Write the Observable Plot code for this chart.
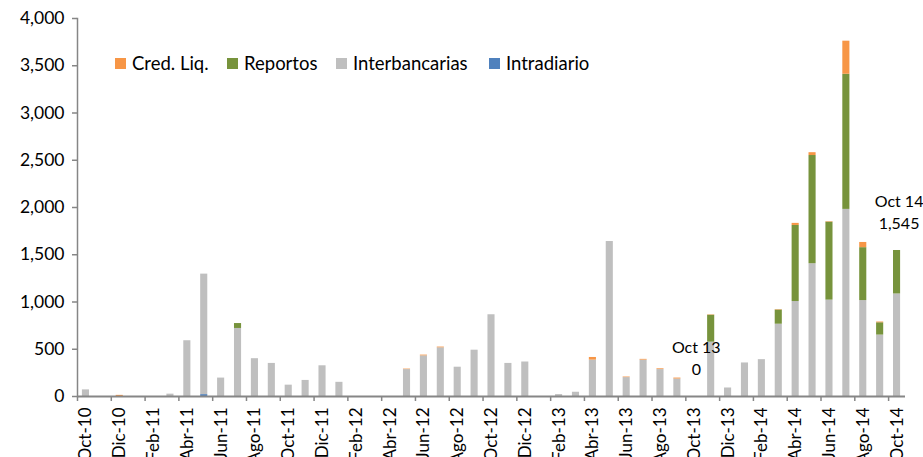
<!DOCTYPE html>
<html><head><meta charset="utf-8">
<script src="https://cdn.jsdelivr.net/npm/d3@7"></script>
<script src="https://cdn.jsdelivr.net/npm/@observablehq/plot@0.6"></script>
<style>
body{margin:0;background:#fff;font-family:Lato,sans-serif;}
#wrap{position:relative;width:923px;height:457px;overflow:hidden;}
.lg{position:absolute;top:52px;display:flex;align-items:center;font-size:18.5px;color:#000;font-family:Lato,sans-serif;line-height:22px;}
.lg .sw{width:11px;height:11px;display:inline-block;margin-right:6px;}
</style></head><body><div id="wrap"></div>
<script>
const months = ["Oct-10","Nov-10","Dic-10","Ene-11","Feb-11","Mar-11","Abr-11","May-11","Jun-11","Jul-11","Ago-11","Sep-11","Oct-11","Nov-11","Dic-11","Ene-12","Feb-12","Mar-12","Abr-12","May-12","Jun-12","Jul-12","Ago-12","Sep-12","Oct-12","Nov-12","Dic-12","Ene-13","Feb-13","Mar-13","Abr-13","May-13","Jun-13","Jul-13","Ago-13","Sep-13","Oct-13","Nov-13","Dic-13","Ene-14","Feb-14","Mar-14","Abr-14","May-14","Jun-14","Jul-14","Ago-14","Sep-14","Oct-14"];
const tickLabels = ["Oct-10","Dic-10","Feb-11","Abr-11","Jun-11","Ago-11","Oct-11","Dic-11","Feb-12","Abr-12","Jun-12","Ago-12","Oct-12","Dic-12","Feb-13","Abr-13","Jun-13","Ago-13","Oct-13","Dic-13","Feb-14","Abr-14","Jun-14","Ago-14","Oct-14"];
const yTicks = [0,500,1000,1500,2000,2500,3000,3500,4000];

const intradiario    = [0,0,0,0,0,0,0,20,0,0,0,0,0,0,0,0,0,0,0,0,0,0,0,0,0,0,0,0,0,0,0,0,0,0,0,0,0,0,0,0,0,0,0,0,0,0,0,0,0];
const interbancarias = [70,0,0,0,0,25,590,1275,195,720,400,350,120,170,325,150,0,0,0,285,430,515,310,490,865,350,365,0,20,45,385,1640,200,385,285,185,0,575,90,355,390,765,1005,1405,1020,1980,1015,650,1085];
const reportos       = [0,0,0,0,0,0,0,0,0,52,0,0,0,0,0,0,0,0,0,0,0,0,0,0,0,0,0,0,0,0,0,0,0,0,0,0,0,285,0,0,0,150,805,1145,825,1430,560,130,460];
const credLiq        = [0,0,12,0,0,0,0,0,0,0,0,0,0,0,0,0,0,0,0,5,8,8,0,0,0,0,0,0,0,0,28,0,6,8,8,10,0,4,0,0,0,4,22,30,5,350,55,8,0];

const seriesNames = ["Cred. Liq.","Reportos","Interbancarias","Intradiario"];
const seriesColors = ["#F79646","#77933C","#BFBFBF","#4F81BD"];
const stackOrder = ["Intradiario","Interbancarias","Reportos","Cred. Liq."];
const seriesValues = {"Cred. Liq.": credLiq, "Reportos": reportos, "Interbancarias": interbancarias, "Intradiario": intradiario};

const annoMonths = ["Oct-13","Oct-14"];
const annoTitles = ["Oct 13","Oct 14"];

const data = [];
for (const s of stackOrder) months.forEach((m, i) => data.push({month: m, series: s, value: seriesValues[s][i]}));
const totals = months.map((m, i) => stackOrder.reduce((a, s) => a + seriesValues[s][i], 0));
const annos = annoMonths.map((m, k) => {
  const i = months.indexOf(m);
  return {month: m, value: totals[i], title: annoTitles[k], label: d3.format(",")(Math.round(totals[i]))};
});

const W = 923, H = 457, ML = 77, MR = 18, MT = 18, MB = 61;
const step = (W - ML - MR) / months.length;

const chart = Plot.plot({
  width: W, height: H, marginLeft: ML, marginRight: MR, marginTop: MT, marginBottom: MB,
  style: {fontFamily: "Lato, sans-serif", fontSize: "17px", color: "#000", background: "#fff", overflow: "visible"},
  x: {type: "band", domain: months, paddingInner: 0.58, paddingOuter: 0.29, align: 0.5, axis: null},
  y: {domain: [0, 4000], axis: null},
  color: {domain: seriesNames, range: seriesColors},
  marks: [
    Plot.barY(data, Plot.stackY({x: "month", y: "value", fill: "series", order: stackOrder})),
    Plot.axisY({ticks: yTicks, tickFormat: d3.format(","), tickSize: 5, tickPadding: 8, stroke: "#868686", fill: "#000", fontSize: 17.5, strokeWidth: 1.5, label: null}),
    Plot.axisX({ticks: tickLabels, tickSize: 5, tickFormat: () => "", dx: -step / 2, stroke: "#868686", strokeWidth: 1.5, label: null}),
    Plot.axisX({ticks: tickLabels, tickSize: 0, tickPadding: 11, tickRotate: -90, fontSize: 17, fill: "#000", label: null}),
    Plot.frame({anchor: "left", stroke: "#868686", strokeWidth: 1.5}),
    Plot.ruleY([0], {stroke: "#868686", strokeWidth: 2}),
    Plot.text(annos, {x: "month", y: "value", text: "title", dy: -49, dx: 2, fontSize: 16, fill: "#000"}),
    Plot.text(annos, {x: "month", y: "value", text: "label", dy: -27, dx: 2, fontSize: 16, fill: "#000"})
  ]
});
const wrap = document.getElementById("wrap");
wrap.appendChild(chart);

const legendLeft = [115, 227, 336, 489];
seriesNames.forEach((n, k) => {
  const d = document.createElement("div");
  d.className = "lg";
  d.style.left = legendLeft[k] + "px";
  d.innerHTML = `<span class="sw" style="background:${seriesColors[k]}"></span><span>${n}</span>`;
  wrap.appendChild(d);
});
</script></body></html>
